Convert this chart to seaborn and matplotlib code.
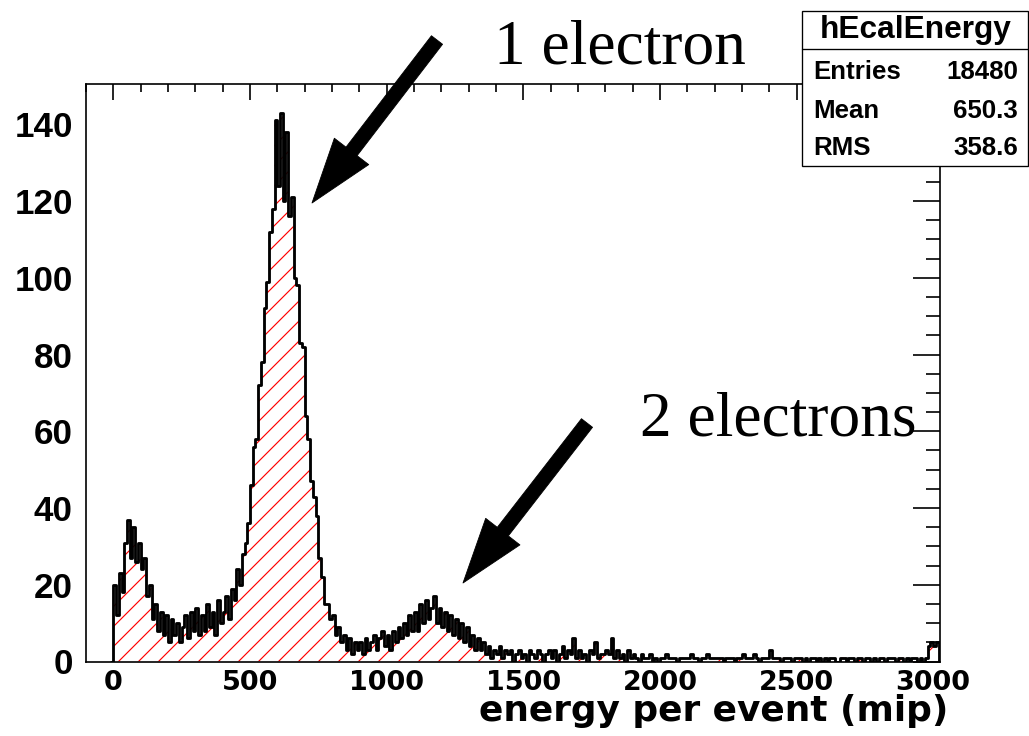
import numpy as np
import pandas as pd
import matplotlib
matplotlib.use("Agg")
import matplotlib.pyplot as plt
from matplotlib.patches import FancyArrowPatch, Rectangle
from matplotlib.lines import Line2D
from matplotlib.ticker import MultipleLocator
import seaborn as sns

# ---------------- data ----------------
bin_width = 10          # mip per bin
first_edge = -10        # an empty bin before 0 so the outline rises at 0
counts = [0,
    20, 12, 23, 18, 31, 37, 27, 35, 26, 31,          # 0-100
    24, 27, 17, 20, 11, 15, 8, 13, 7, 12,            # 100-200
    5, 11, 7, 10, 5, 9, 12, 6, 13, 8,                # 200-300
    14, 7, 12, 8, 15, 9, 13, 7, 16, 10,              # 300-400
    13, 17, 11, 19, 16, 24, 20, 28, 31, 36,          # 400-500
    46, 56, 58, 72, 78, 92, 99, 112, 118, 141,       # 500-600
    124, 143, 120, 138, 116, 121, 100, 98, 83, 82,   # 600-700
    64, 58, 47, 43, 38, 27, 22, 15, 15, 11,          # 700-800
    12, 7, 9, 5, 7, 3, 6, 2, 5, 3,                   # 800-900
    5, 2, 6, 3, 5, 7, 3, 6, 8, 4,                    # 900-1000
    7, 3, 8, 5, 9, 6, 10, 7, 12, 8,                  # 1000-1100
    13, 8, 15, 10, 16, 11, 14, 17, 10, 14,           # 1100-1200
    9, 13, 8, 12, 7, 11, 6, 10, 5, 9,                # 1200-1300
    4, 7, 3, 6, 3, 5, 2, 4, 1, 3,                    # 1300-1400
    2, 4, 1, 3, 2, 3, 0, 2, 3, 1,                    # 1400-1500
    2, 0, 3, 2, 1, 3, 2, 0, 2, 3,                    # 1500-1600
    1, 3, 0, 2, 4, 1, 3, 2, 6, 1,                    # 1600-1700
    3, 1, 2, 0, 3, 2, 5, 1, 2, 2,                    # 1700-1800
    3, 2, 6, 1, 3, 1, 2, 0, 3, 1,                    # 1800-1900
    2, 1, 0, 2, 1, 1, 2, 0, 1, 0,                    # 1900-2000
    1, 1, 2, 1, 1, 1, 0, 1, 1, 1,                    # 2000-2100
    1, 2, 1, 1, 0, 1, 1, 2, 1, 1,                    # 2100-2200
    1, 1, 1, 0, 1, 1, 1, 0, 1, 1,                    # 2200-2300
    2, 1, 1, 1, 2, 1, 0, 1, 1, 1,                    # 2300-2400
    3, 1, 1, 1, 0, 1, 1, 1, 0, 1,                    # 2400-2500
    1, 1, 0, 1, 0, 1, 1, 0, 1, 0,                    # 2500-2600
    1, 0, 1, 1, 0, 0, 1, 1, 0, 1,                    # 2600-2700
    1, 0, 1, 1, 0, 1, 1, 0, 1, 0,                    # 2700-2800
    1, 1, 0, 1, 1, 1, 0, 1, 1, 0,                    # 2800-2900
    1, 0, 1, 1, 0, 1, 0, 1, 4, 5,                    # 2900-3000
    4, 5,                                            # 3000-3020
    0]

x_ticks = [0, 500, 1000, 1500, 2000, 2500, 3000]
y_ticks = [0, 20, 40, 60, 80, 100, 120, 140]
x_label = "energy per event (mip)"
stats_title = "hEcalEnergy"
stats_labels = ["Entries", "Mean", "RMS"]
stats_values = ["18480", "650.3", "358.6"]
note_texts = ["1 electron", "2 electrons"]

n_bins = len(counts)
centers = first_edge + bin_width * (np.arange(n_bins) + 0.5)
hist_df = pd.DataFrame({"energy": centers, "count": np.asarray(counts, dtype=float)})
bin_range = (first_edge, first_edge + bin_width * n_bins)

# ---------------- figure ----------------
W, H, DPI = 1029, 736, 120
sns.set_style("white")
plt.rcParams["font.family"] = ["Liberation Sans", "DejaVu Sans"]
plt.rcParams["text.color"] = "black"
plt.rcParams["axes.labelcolor"] = "black"
plt.rcParams["xtick.color"] = "black"
plt.rcParams["ytick.color"] = "black"
plt.rcParams["xtick.labelcolor"] = "black"
plt.rcParams["ytick.labelcolor"] = "black"
plt.rcParams["hatch.color"] = "#ff0000"
plt.rcParams["hatch.linewidth"] = 0.7

fig = plt.figure(figsize=(W / DPI, H / DPI), dpi=DPI, facecolor="white")
L, R, T, B = 86, 940, 84, 661.5
ax = fig.add_axes([L / W, 1 - B / H, (R - L) / W, (B - T) / H])
ax.set_facecolor("white")

sns.histplot(data=hist_df, x="energy", weights="count", binwidth=bin_width,
             binrange=bin_range, element="step", fill=True,
             color="#ff0000", facecolor="none", edgecolor="#ff0000",
             linewidth=0, hatch="//", ax=ax, zorder=1)
sns.histplot(data=hist_df, x="energy", weights="count", binwidth=bin_width,
             binrange=bin_range, element="step", fill=False,
             color="black", linewidth=1.7, ax=ax, zorder=2)

ax.set_xlim(-100, 3025)
ax.set_ylim(0, 150.5)
ax.set_xlabel("")
ax.set_ylabel("")

for s in ax.spines.values():
    s.set_visible(True)
    s.set_color("black")
    s.set_linewidth(1.0)

ax.xaxis.set_major_locator(MultipleLocator(500))
ax.xaxis.set_minor_locator(MultipleLocator(100))
ax.yaxis.set_major_locator(MultipleLocator(20))
ax.yaxis.set_minor_locator(MultipleLocator(5))
ax.set_xticks(x_ticks, labels=[str(v) for v in x_ticks])
ax.set_yticks(y_ticks, labels=[str(v) for v in y_ticks])
ax.tick_params(which="both", direction="in", top=True, right=True,
               width=1.0, color="black", labelcolor="black")
ax.tick_params(axis="x", which="major", length=9.6, pad=5)
ax.tick_params(axis="x", which="minor", length=4.8)
ax.tick_params(axis="y", which="major", length=16, pad=8.0)
ax.tick_params(axis="y", which="minor", length=8.4)
for lab in ax.get_xticklabels():
    lab.set_fontweight("bold")
    lab.set_family(["DejaVu Sans"])
    lab.set_fontsize(16.2)
    lab.set_color("black")
for lab in ax.get_yticklabels():
    lab.set_fontweight("bold")
    lab.set_fontsize(21)
    lab.set_color("black")

fig.text(948 / W, 1 - 721 / H, x_label, ha="right", va="baseline",
         fontsize=21.5, fontweight="bold", family=["DejaVu Sans"], color="black")

# stats box
bx0, bx1, by0, by1, bsep = 802, 1028, 11, 166, 49
fig.add_artist(Rectangle((bx0 / W, 1 - by1 / H), (bx1 - bx0) / W, (by1 - by0) / H,
                         transform=fig.transFigure, facecolor="white",
                         edgecolor="black", linewidth=0.8, zorder=5))
fig.add_artist(Line2D([bx0 / W, bx1 / W], [1 - bsep / H, 1 - bsep / H],
                      transform=fig.transFigure, color="black", linewidth=0.8, zorder=6))
fig.text(915.5 / W, 1 - 30 / H, stats_title, ha="center", va="center",
         fontsize=19, fontweight="bold", color="black", zorder=7)
row_y = [72, 111, 148]
for lab, val, yy in zip(stats_labels, stats_values, row_y):
    fig.text(813 / W, 1 - yy / H, lab, ha="left", va="center",
             fontsize=15.5, fontweight="bold", color="black", zorder=7)
    fig.text(1018 / W, 1 - yy / H, val, ha="right", va="center",
             fontsize=15.5, fontweight="bold", color="black", zorder=7)

# annotation texts
fig.text(494 / W, 1 - 63 / H, note_texts[0], ha="left", va="baseline",
         fontsize=38, color="black", family=["Liberation Serif", "DejaVu Serif"])
fig.text(640 / W, 1 - 435 / H, note_texts[1], ha="left", va="baseline",
         fontsize=38, color="black", family=["Liberation Serif", "DejaVu Serif"])

# arrows
style = "simple,head_length=39,head_width=26,tail_width=8.4"
for (tx, ty), (hx, hy) in [((437, 40), (312, 203)), ((587, 423), (463, 583))]:
    fig.add_artist(FancyArrowPatch((tx / W, 1 - ty / H), (hx / W, 1 - hy / H),
                                   transform=fig.transFigure, arrowstyle=style,
                                   mutation_scale=1, shrinkA=0, shrinkB=0,
                                   facecolor="black", edgecolor="black",
                                   linewidth=0.5, zorder=8))

fig.savefig("out.png", dpi=DPI, facecolor="white")
